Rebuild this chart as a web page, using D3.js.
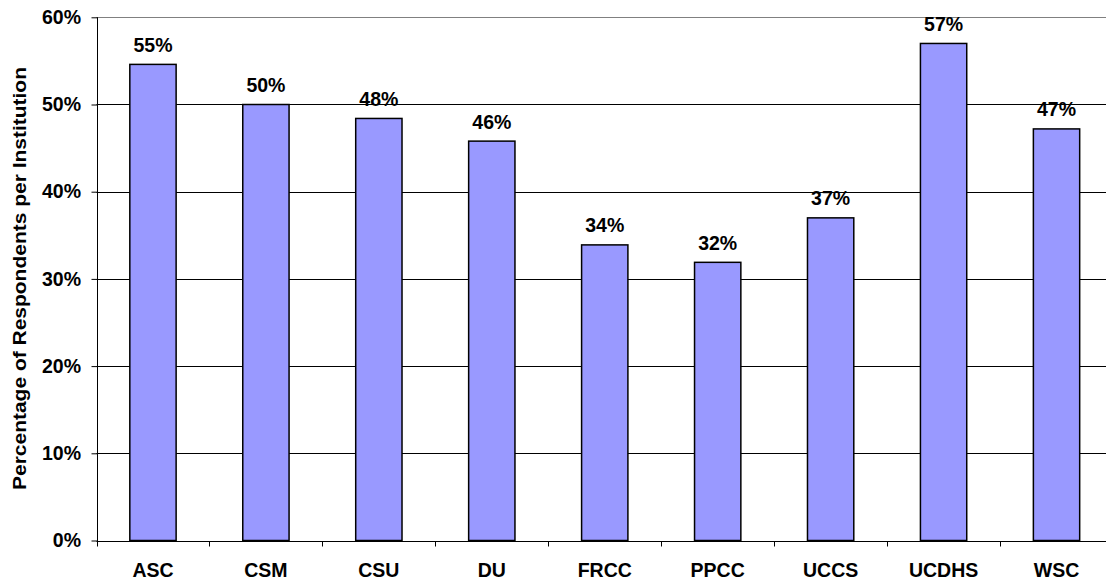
<!DOCTYPE html>
<html>
<head>
<meta charset="utf-8">
<script src="https://cdn.jsdelivr.net/npm/d3@7"></script>
<style>
  body { margin: 0; background: #fff; }
  svg { display: block; overflow: hidden; }
  text { font-family: "Liberation Sans", Arial, sans-serif; font-weight: bold; fill: #000; }
</style>
</head>
<body>
<div id="chart"></div>
<script>
const institutions = ["ASC", "CSM", "CSU", "DU", "FRCC", "PPCC", "UCCS", "UCDHS", "WSC"];
const respondentShare = [0.546, 0.500, 0.484, 0.458, 0.339, 0.319, 0.370, 0.570, 0.472];
const yTicks = [0, 0.1, 0.2, 0.3, 0.4, 0.5, 0.6];
const yTitle = "Percentage of Respondents per Institution";

const width = 1106;
const height = 582;
const plot = { left: 96.5, right: 1113, top: 17.3, bottom: 540.5 };

const svg = d3.select("#chart").append("svg")
    .attr("width", width)
    .attr("height", height);

const x = d3.scaleBand()
    .domain(institutions)
    .range([plot.left, plot.right])
    .padding(0);

const y = d3.scaleLinear()
    .domain([0, 0.6])
    .range([plot.bottom, plot.top]);

const crisp = v => Math.round(v) + 0.5;
const pct = d3.format(".0%");

// gridlines
svg.append("g")
    .selectAll("line")
    .data(yTicks.filter(d => d > 0))
    .enter().append("line")
    .attr("x1", plot.left)
    .attr("x2", plot.right)
    .attr("y1", d => crisp(y(d)))
    .attr("y2", d => crisp(y(d)))
    .attr("stroke", d => d === 0.6 ? "#808080" : "#000")
    .attr("stroke-width", 1);

// bars
const barWidth = x.bandwidth() * 0.41;
svg.append("g")
    .selectAll("rect")
    .data(institutions)
    .enter().append("rect")
    .attr("x", d => x(d) + (x.bandwidth() - barWidth) / 2)
    .attr("y", (d, i) => y(respondentShare[i]))
    .attr("width", barWidth)
    .attr("height", (d, i) => plot.bottom - y(respondentShare[i]))
    .attr("fill", "#9999FF")
    .attr("stroke", "#000")
    .attr("stroke-width", 1.5);

// value labels
svg.append("g")
    .selectAll("text")
    .data(institutions)
    .enter().append("text")
    .attr("x", d => x(d) + x.bandwidth() / 2)
    .attr("y", (d, i) => y(respondentShare[i]) - 12.5)
    .attr("text-anchor", "middle")
    .attr("font-size", 19.5)
    .text((d, i) => pct(respondentShare[i]));

// y axis
const yAxis = svg.append("g")
    .attr("transform", `translate(${crisp(plot.left) - 0.5},0)`)
    .call(d3.axisLeft(y).tickValues(yTicks).tickFormat(pct).tickSize(6).tickPadding(10));
yAxis.select(".domain").attr("stroke", "#000").attr("d", `M0.5,${plot.top}V${crisp(plot.bottom)}`);
yAxis.selectAll(".tick line").attr("stroke", "#000").attr("x1", 0.5).attr("x2", -5.5);
yAxis.selectAll(".tick text")
    .attr("font-size", 19.5)
    .attr("font-family", "Liberation Sans, Arial, sans-serif")
    .attr("font-weight", "bold")
    .attr("fill", "#000");

// x axis
svg.append("line")
    .attr("x1", plot.left)
    .attr("x2", plot.right)
    .attr("y1", crisp(plot.bottom))
    .attr("y2", crisp(plot.bottom))
    .attr("stroke", "#000");

svg.append("g")
    .selectAll("line")
    .data(institutions)
    .enter().append("line")
    .attr("x1", d => crisp(x(d)))
    .attr("x2", d => crisp(x(d)))
    .attr("y1", crisp(plot.bottom))
    .attr("y2", crisp(plot.bottom) + 5)
    .attr("stroke", "#000");

svg.append("g")
    .selectAll("text")
    .data(institutions)
    .enter().append("text")
    .attr("x", d => x(d) + x.bandwidth() / 2)
    .attr("y", 576.5)
    .attr("text-anchor", "middle")
    .attr("font-size", 19.5)
    .text(d => d);

// y title (stretched a bit along its length, like the original)
svg.append("text")
    .attr("transform", "translate(25.5,278.5) rotate(-90)")
    .attr("text-anchor", "middle")
    .attr("font-size", 18.5)
    .attr("textLength", 423)
    .attr("lengthAdjust", "spacingAndGlyphs")
    .text(yTitle);
</script>
</body>
</html>
